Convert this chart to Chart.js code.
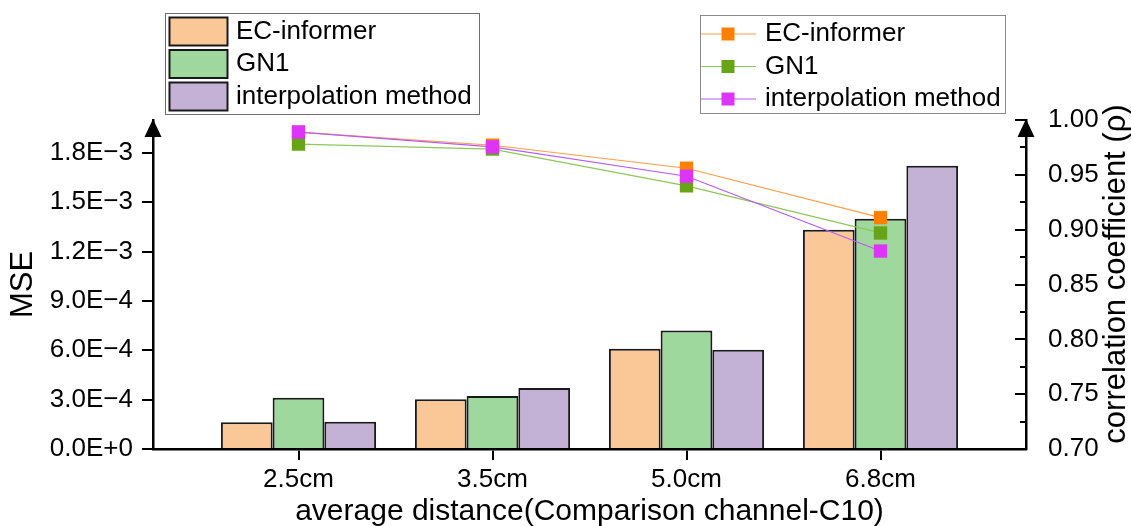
<!DOCTYPE html>
<html>
<head>
<meta charset="utf-8">
<script src="https://cdn.jsdelivr.net/npm/chart.js@4/dist/chart.umd.min.js"></script>
<style>
  html, body { margin: 0; padding: 0; background: #fff; }
  #wrap { width: 1131px; height: 526px; position: relative; }
</style>
</head>
<body>
<div id="wrap"><canvas id="c" width="1131" height="526"></canvas></div>
<script>
// Distances on the x axis
const categories = ['2.5cm', '3.5cm', '5.0cm', '6.8cm'];
const seriesNames = ['EC-informer', 'GN1', 'interpolation method'];

// MSE (bars, left axis)
const mseECInformer = [1.62e-4, 3.02e-4, 6.10e-4, 1.333e-3];
const mseGN1        = [3.12e-4, 3.22e-4, 7.20e-4, 1.40e-3];
const mseInterp     = [1.66e-4, 3.71e-4, 6.04e-4, 1.722e-3];

// Correlation coefficient (lines, right axis)
const rhoECInformer = [0.989, 0.977, 0.956, 0.911];
const rhoGN1        = [0.978, 0.9735, 0.940, 0.897];
const rhoInterp     = [0.989, 0.9755, 0.9487, 0.8805];

// Axis ranges and tick steps
const mseRange = [0, 2.0e-3], mseStep = 3e-4;
const rhoRange = [0.70, 1.00], rhoStep = 0.05;

const FONT = '"Liberation Sans", Arial, Helvetica, sans-serif';
const barFill   = ['#FAC897', '#9FD89C', '#C3B2D6'];
const lineColor = ['#FF9D4A', '#8FC65A', '#B65CF5'];
const markColor = ['#FF8000', '#67A516', '#DD35F7'];

const pts = arr => arr.map((v, i) => ({ x: i, y: v }));

const barSets = [mseECInformer, mseGN1, mseInterp].map((d, k) => ({
  type: 'bar',
  label: seriesNames[k],
  data: pts(d),
  yAxisID: 'y',
  backgroundColor: barFill[k],
  borderColor: '#1a1a1a',
  borderWidth: 2,
  borderSkipped: 'bottom',
  categoryPercentage: 0.8,
  barPercentage: 1.0,
  order: 10
}));

const lineSets = [rhoECInformer, rhoGN1, rhoInterp].map((d, k) => ({
  type: 'line',
  label: seriesNames[k],
  data: pts(d),
  yAxisID: 'y1',
  borderColor: lineColor[k],
  borderWidth: 1.2,
  pointStyle: 'rect',
  pointRadius: 9.2,
  pointBackgroundColor: markColor[k],
  pointBorderColor: markColor[k] + '55',
  pointBorderWidth: 1,
  tension: 0,
  fill: false,
  order: 3 - k
}));

// Inward ticks on the right axis, axis arrows, right title and both legends
const decor = {
  id: 'decor',
  afterDraw(chart) {
    const { ctx, chartArea: a, scales } = chart;
    const r = scales.y1;
    ctx.save();

    // right-axis ticks pointing into the plot (major + minor)
    ctx.strokeStyle = '#000';
    ctx.lineWidth = 2;
    const n = Math.round((rhoRange[1] - rhoRange[0]) / (rhoStep / 2));
    for (let i = 0; i <= n; i++) {
      const y = Math.round(r.getPixelForValue(rhoRange[0] + i * rhoStep / 2));
      const len = i % 2 === 0 ? 11 : 6;
      ctx.beginPath();
      ctx.moveTo(a.right, y);
      ctx.lineTo(a.right - len, y);
      ctx.stroke();
    }

    // arrow heads on top of both vertical axes
    ctx.fillStyle = '#000';
    [a.left, a.right].forEach(x => {
      ctx.beginPath();
      ctx.moveTo(x, a.top - 1);
      ctx.lineTo(x - 8.5, a.top + 17);
      ctx.lineTo(x + 8.5, a.top + 17);
      ctx.closePath();
      ctx.fill();
    });

    // right axis title, reading upward
    ctx.save();
    ctx.translate(1116, 274);
    ctx.rotate(-Math.PI / 2);
    ctx.font = '31px ' + FONT;
    ctx.textAlign = 'center';
    ctx.textBaseline = 'middle';
    ctx.fillStyle = '#000';
    ctx.fillText('correlation coefficient (\u03C1)', 0, 0);
    ctx.restore();

    ctx.font = '26px ' + FONT;
    ctx.textBaseline = 'middle';
    ctx.textAlign = 'left';
    const ds = chart.data.datasets;

    // bar legend
    ctx.strokeStyle = '#6e6e6e';
    ctx.lineWidth = 1;
    ctx.strokeRect(165.5, 13.5, 314, 101);
    for (let k = 0; k < 3; k++) {
      const y0 = 17.5 + k * 32.5;
      ctx.fillStyle = ds[k].backgroundColor;
      ctx.fillRect(169.5, y0, 58, 28);
      ctx.strokeStyle = '#1a1a1a';
      ctx.lineWidth = 2;
      ctx.strokeRect(169.5, y0, 58, 28);
      ctx.fillStyle = '#000';
      ctx.fillText(ds[k].label, 236, y0 + 14);
    }

    // line legend
    ctx.strokeStyle = '#8a8a8a';
    ctx.lineWidth = 1;
    ctx.strokeRect(700.5, 15.5, 305, 98);
    for (let k = 0; k < 3; k++) {
      const d = ds[3 + k];
      const y = 34 + k * 32.5;
      ctx.strokeStyle = d.borderColor;
      ctx.lineWidth = 1.2;
      ctx.beginPath();
      ctx.moveTo(701, y);
      ctx.lineTo(756, y);
      ctx.stroke();
      ctx.fillStyle = d.pointBackgroundColor;
      ctx.fillRect(721.5, y - 6.5, 13, 13);
      ctx.fillStyle = '#000';
      ctx.fillText(d.label, 765, y);
    }
    ctx.restore();
  }
};

new Chart(document.getElementById('c'), {
  type: 'bar',
  data: { datasets: [...barSets, ...lineSets] },
  options: {
    responsive: false,
    animation: false,
    layout: { padding: { top: 120, left: 0, right: 0, bottom: 0 } },
    plugins: { legend: { display: false }, tooltip: { enabled: false } },
    scales: {
      x: {
        type: 'linear',
        position: 'bottom',
        min: -0.75,
        max: categories.length - 0.25,
        offset: false,
        afterBuildTicks: s => { s.ticks = categories.map((_, i) => ({ value: i })); },
        afterFit: s => { s.height = 77; },
        ticks: {
          callback: v => categories[Math.round(v)],
          font: { family: FONT, size: 26 },
          color: '#000',
          padding: 4,
          maxRotation: 0,
          autoSkip: false
        },
        grid: { offset: false, drawOnChartArea: false, drawTicks: true, tickLength: 11, color: '#000', lineWidth: 2 },
        border: { display: true, color: '#000', width: 2.5 },
        title: {
          display: true,
          text: 'average distance(Comparison channel-C10)',
          font: { family: FONT, size: 30, lineHeight: 1 },
          color: '#000',
          padding: { top: 0, bottom: -1 }
        }
      },
      y: {
        type: 'linear',
        position: 'left',
        min: mseRange[0],
        max: mseRange[1],
        afterFit: s => { s.width = 153; },
        ticks: {
          stepSize: mseStep,
          includeBounds: false,
          callback: v => v.toExponential(1).toUpperCase().replace('-', '\u2212'),
          font: { family: FONT, size: 26 },
          color: '#000',
          padding: 9
        },
        grid: { drawOnChartArea: false, drawTicks: true, tickLength: 11, color: '#000', lineWidth: 2 },
        border: { display: true, color: '#000', width: 2.5 },
        title: {
          display: true,
          text: 'MSE',
          font: { family: FONT, size: 31, lineHeight: 1 },
          color: '#000',
          padding: { top: 8, bottom: 0 }
        }
      },
      y1: {
        type: 'linear',
        position: 'right',
        min: rhoRange[0],
        max: rhoRange[1],
        afterFit: s => { s.width = 105; },
        ticks: {
          stepSize: rhoStep,
          includeBounds: false,
          callback: v => v.toFixed(2),
          font: { family: FONT, size: 26 },
          color: '#000',
          padding: 14
        },
        grid: { display: false, drawOnChartArea: false },
        border: { display: true, color: '#000', width: 2.5 }
      }
    }
  },
  plugins: [decor]
});
</script>
</body>
</html>
